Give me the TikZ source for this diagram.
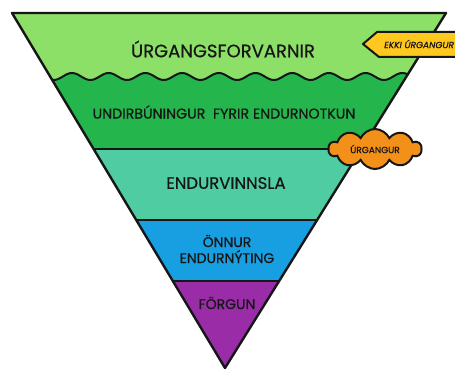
\documentclass[tikz,border=0pt]{standalone}
\usepackage{fontspec}
\setmainfont{Poppins}
\newfontfamily\hand{Poppins}[FakeBold=0.6]
\usetikzlibrary{shapes.symbols}
\definecolor{cLight}{HTML}{8CE068}
\definecolor{cDark}{HTML}{24B54C}
\definecolor{cTeal}{HTML}{50CCA3}
\definecolor{cBlue}{HTML}{179FE2}
\definecolor{cPurple}{HTML}{9B2CA8}
\definecolor{cOrange}{HTML}{F2901A}
\definecolor{cYellow}{HTML}{FFC81E}
\definecolor{cInk}{HTML}{161616}
\tikzset{
  outline/.style={draw=cInk, line width=2.4pt, line join=round},
  band/.style={draw=cInk, line width=2pt},
  label/.style={text=cInk, align=center, inner sep=0pt},
}
\begin{document}
\begin{tikzpicture}[x=1pt,y=-1pt]
\useasboundingbox (0,0) rectangle (455,369);
\coordinate (TL) at (12,13);
\coordinate (TR) at (446,13);
\coordinate (T) at (225,368);
\begin{scope}
\clip (TL) -- (TR) -- (T) -- cycle;
\fill[cDark] (0,0) rectangle (455,149);
\fill[cLight] (0,0) -- (0,76.5) -- plot[domain=0:455,samples=300] (\x,{76.5-3.5*cos(9.809*(\x-72))}) -- (455,0) -- cycle;
\fill[cTeal] (0,149) rectangle (455,220);
\fill[cBlue] (0,220) rectangle (455,281);
\fill[cPurple] (0,281) rectangle (455,369);
\draw[band] plot[domain=0:455,samples=300] (\x,{76.5-3.5*cos(9.809*(\x-72))});
\draw[band] (0,149) -- (455,149);
\draw[band] (0,220) -- (455,220);
\draw[band] (0,281) -- (455,281);
\end{scope}
\draw[outline] (TL) -- (TR) -- (T) -- cycle;

\node[label, font=\hand\fontsize{18}{18}\selectfont] (t1) at (223,49) {ÚRGANGSFORVARNIR};
\node[label, font=\hand\fontsize{14.2}{14}\selectfont] (t2) at (224,112) {UNDIRBÚNINGUR\ \ FYRIR ENDURNOTKUN};
\node[label, font=\hand\fontsize{16.5}{16}\selectfont] (t3) at (226,183) {ENDURVINNSLA};
\node[label, font=\hand\fontsize{14}{16}\selectfont] (t4) at (227,249) {ÖNNUR\\ENDURNÝTING};
\node[label, font=\hand\fontsize{14}{14}\selectfont] (t5) at (227,303) {FÖRGUN};

\draw[outline, fill=cYellow, line width=2pt] (363,44) -- (377,32) -- (462,32) -- (462,57) -- (379,57) -- cycle;
\node[label, font=\hand\itshape\fontsize{9}{9}\selectfont, anchor=west] (tag) at (384,44) {EKKI ÚRGANGUR};

\node[cloud, cloud puffs=10, cloud puff arc=130, aspect=2.3, draw=cInk, fill=cOrange, line width=2pt, minimum width=93pt, minimum height=40pt, inner sep=0pt] (cl) at (375,149) {};
\node[label, font=\hand\fontsize{9}{9}\selectfont] (clt) at (cl.center) {ÚRGANGUR};
\end{tikzpicture}
\end{document}
